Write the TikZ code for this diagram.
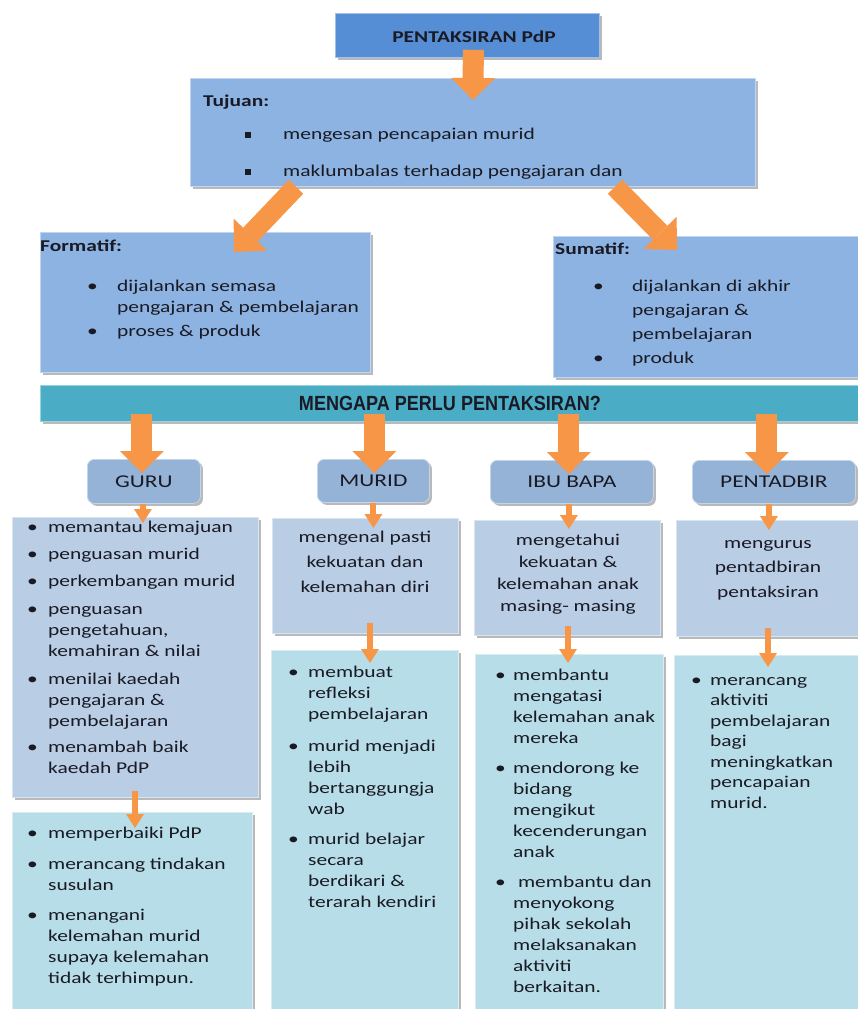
\documentclass[tikz,border=0pt]{standalone}
\usepackage{fontspec}
\setmainfont{Carlito}[FakeStretch=1.3]
\newfontfamily\bannerfont{Liberation Sans}[FakeStretch=0.88]
\usetikzlibrary{arrows.meta,shadows,calc}
\definecolor{titleblue}{HTML}{558ED5}
\definecolor{tujblue}{HTML}{8DB3E2}
\definecolor{bannerc}{HTML}{4BACC6}
\definecolor{headc}{HTML}{95B3D7}
\definecolor{rowa}{HTML}{B9CDE5}
\definecolor{rowb}{HTML}{B7DEE8}
\definecolor{arrorange}{HTML}{F79646}
\definecolor{textc}{HTML}{1A1A24}
\newcommand\bodyfs{\fontsize{16.5}{21}\selectfont}
\newcommand\sqb{\rule[1pt]{6pt}{6pt}}
\tikzset{
  bx/.style={anchor=north west, inner sep=0pt, draw=#1!55!white, line width=0.8pt, fill=#1,
    drop shadow={shadow xshift=2.5pt, shadow yshift=-2.5pt, fill=black!50, opacity=0.55}},
  hd/.style={bx=headc, rounded corners=7pt, text=textc, font=\fontsize{18}{20}\selectfont},
  txt/.style={anchor=base west, inner sep=0pt, text=textc, font=\bodyfs},
  ctxt/.style={anchor=base, inner sep=0pt, text=textc},
  bigarrow/.style={draw=arrorange, line width=21pt, -{Triangle[length=22pt,width=44pt,line width=0pt]}},
  diagarrow/.style={draw=arrorange, line width=20pt, -{Triangle[length=24pt,width=46pt,line width=0pt]}},
  smallarrow/.style={draw=arrorange, line width=6pt, -{Triangle[length=14pt,width=18pt,line width=0pt]}}
}
\begin{document}
\begin{tikzpicture}[x=1pt,y=-1pt]
\useasboundingbox[fill=white] (0,0) rectangle (857,1009);

% boxes
\node[bx=titleblue, minimum width=264pt, minimum height=44pt] (title) at (335,13) {};
\node[bx=tujblue, minimum width=565pt, minimum height=108pt] (tuj) at (190,78) {};
\node[bx=tujblue, minimum width=330pt, minimum height=140pt] (form) at (40,232) {};
\node[bx=tujblue, minimum width=310pt, minimum height=141pt] (sum) at (553,236) {};
\node[bx=bannerc, minimum width=830pt, minimum height=36pt] (banner) at (40,385) {};

\node[hd, minimum width=113pt, minimum height=44pt] (guru) at (87,459) {GURU};
\node[hd, minimum width=112pt, minimum height=43pt] (murid) at (317,459) {MURID};
\node[hd, minimum width=163pt, minimum height=43pt] (ibu) at (490,460) {IBU BAPA};
\node[hd, minimum width=163pt, minimum height=43pt] (pentad) at (692,460) {PENTADBIR};

\node[bx=rowa, minimum width=246pt, minimum height=280pt] (g1) at (12,517) {};
\node[bx=rowb, minimum width=240pt, minimum height=210pt] (g2) at (12,812) {};
\node[bx=rowa, minimum width=186pt, minimum height=115pt] (m1) at (272,518) {};
\node[bx=rowb, minimum width=187pt, minimum height=370pt] (m2) at (271,650) {};
\node[bx=rowa, minimum width=186pt, minimum height=115pt] (i1) at (474,520) {};
\node[bx=rowb, minimum width=188pt, minimum height=370pt] (i2) at (475,654) {};
\node[bx=rowa, minimum width=185pt, minimum height=116pt] (p1) at (676,520) {};
\node[bx=rowb, minimum width=190pt, minimum height=370pt] (p2) at (674,655) {};

% arrows
\draw[bigarrow] ($(title.south)+(6,-8)$) -- ($(tuj.north)+(0,22)$);
\draw[diagarrow] ($(tuj.south west)+(106,0)$) -- ($(form.north east)+(-137,20)$);
\draw[diagarrow] ($(tuj.south west)+(425,0)$) -- ($(sum.north west)+(124,14)$);

\draw[bigarrow] ($(guru.north |- banner.south)+(-2,-8)$) -- ($(guru.north)+(-2,14)$);
\draw[bigarrow] ($(murid.north |- banner.south)+(1,-8)$) -- ($(murid.north)+(1,14)$);
\draw[bigarrow] ($(ibu.north |- banner.south)+(-3,-8)$) -- ($(ibu.north)+(-3,14)$);
\draw[bigarrow] ($(pentad.north |- banner.south)+(-7,-8)$) -- ($(pentad.north)+(-7,14)$);

\draw[smallarrow] ($(guru.south)+(-1,0)$) -- ($(guru.south |- g1.north)+(-1,6)$);
\draw[smallarrow] (murid.south) -- ($(murid.south |- m1.north)+(0,10)$);
\draw[smallarrow] ($(ibu.south)+(-3,0)$) -- ($(ibu.south |- i1.north)+(-3,9)$);
\draw[smallarrow] ($(pentad.south)+(-5,0)$) -- ($(pentad.south |- p1.north)+(-5,10)$);

\draw[smallarrow] ($(g1.south west)+(123,-7)$) -- ($(g2.north west)+(123,16)$);
\draw[smallarrow] ($(m1.south west)+(98,-11)$) -- ($(m2.north west)+(99,13)$);
\draw[smallarrow] ($(i1.south west)+(94,-10)$) -- ($(i2.north west)+(93,9)$);
\draw[smallarrow] ($(p1.south west)+(92,-9)$) -- ($(p2.north west)+(94,12)$);

% texts
\node[ctxt, font=\bfseries\fontsize{16.5}{18}\selectfont] (titlet) at (474,42) {PENTAKSIRAN PdP};

\node[txt, font=\bfseries\bodyfs] (tujt) at (203,106) {Tujuan:};
\node[txt] (tujl) at (245,139) {\begin{tabular}[t]{@{}p{38pt}@{}l@{}}
\sqb & mengesan pencapaian murid\\[16pt]
\sqb & maklumbalas terhadap pengajaran dan
\end{tabular}};

\node[txt, font=\bfseries\bodyfs] (formt) at (40,251) {Formatif:};
\node[txt] (forml) at (87,291) {\begin{tabular}[t]{@{}p{30pt}@{}l@{}}
\textbullet & dijalankan semasa\\
 & pengajaran \& pembelajaran\\[3pt]
\textbullet & proses \& produk
\end{tabular}};

\node[txt, font=\bfseries\bodyfs] (sumt) at (555,254) {Sumatif:};
\node[txt] (suml) at (593,291) {\begin{tabular}[t]{@{}p{39pt}@{}l@{}}
\textbullet & dijalankan di akhir\\[3pt]
 & pengajaran \&\\[3pt]
 & pembelajaran\\[3pt]
\textbullet & produk
\end{tabular}};

\node[ctxt, text=textc, font=\bannerfont\bfseries\fontsize{20.5}{24}\selectfont, anchor=center] (bant) at (450,403) {MENGAPA PERLU PENTAKSIRAN?};

\node[txt] (g1t) at (27,532) {\begin{tabular}[t]{@{}p{21pt}@{}l@{}}
\textbullet & memantau kemajuan\\[6pt]
\textbullet & penguasan murid\\[6pt]
\textbullet & perkembangan murid\\[7pt]
\textbullet & penguasan\\
 & pengetahuan,\\
 & kemahiran \& nilai\\[7pt]
\textbullet & menilai kaedah\\
 & pengajaran \&\\
 & pembelajaran\\[5pt]
\textbullet & menambah baik\\
 & kaedah PdP
\end{tabular}};

\node[txt] (g2t) at (27,838) {\begin{tabular}[t]{@{}p{21pt}@{}l@{}}
\textbullet & memperbaiki PdP\\[10pt]
\textbullet & merancang tindakan\\
 & susulan\\[9pt]
\textbullet & menangani\\
 & kelemahan murid\\
 & supaya kelemahan\\
 & tidak terhimpun.
\end{tabular}};

\node[ctxt, font=\fontsize{16.5}{25}\selectfont] (m1t) at (365,542) {\begin{tabular}[t]{@{}c@{}}
mengenal pasti\\ kekuatan dan\\ kelemahan diri
\end{tabular}};
\node[ctxt, font=\fontsize{16.5}{22.3}\selectfont] (i1t) at (568,545) {\begin{tabular}[t]{@{}c@{}}
mengetahui\\ kekuatan \&\\ kelemahan anak\\ masing- masing
\end{tabular}};
\node[ctxt, font=\fontsize{16.5}{24.5}\selectfont] (p1t) at (768,548) {\begin{tabular}[t]{@{}c@{}}
mengurus\\ pentadbiran\\ pentaksiran
\end{tabular}};

\node[txt] (m2t) at (288,677) {\begin{tabular}[t]{@{}p{20pt}@{}l@{}}
\textbullet & membuat\\
 & refleksi\\
 & pembelajaran\\[11pt]
\textbullet & murid menjadi\\
 & lebih\\
 & bertanggungja\\
 & wab\\[9pt]
\textbullet & murid belajar\\
 & secara\\
 & berdikari \&\\
 & terarah kendiri
\end{tabular}};

\node[txt] (i2t) at (495,680) {\begin{tabular}[t]{@{}p{18pt}@{}l@{}}
\textbullet & membantu\\
 & mengatasi\\
 & kelemahan anak\\
 & mereka\\[9pt]
\textbullet & mendorong ke\\
 & bidang\\
 & mengikut\\
 & kecenderungan\\
 & anak\\[9pt]
\textbullet & \ membantu dan\\
 & menyokong\\
 & pihak sekolah\\
 & melaksanakan\\
 & aktiviti\\
 & berkaitan.
\end{tabular}};

\node[txt, font=\fontsize{16.5}{20.5}\selectfont] (p2t) at (691,685) {\begin{tabular}[t]{@{}p{19pt}@{}l@{}}
\textbullet & merancang\\
 & aktiviti\\
 & pembelajaran\\
 & bagi\\
 & meningkatkan\\
 & pencapaian\\
 & murid.
\end{tabular}};
\end{tikzpicture}
\end{document}
